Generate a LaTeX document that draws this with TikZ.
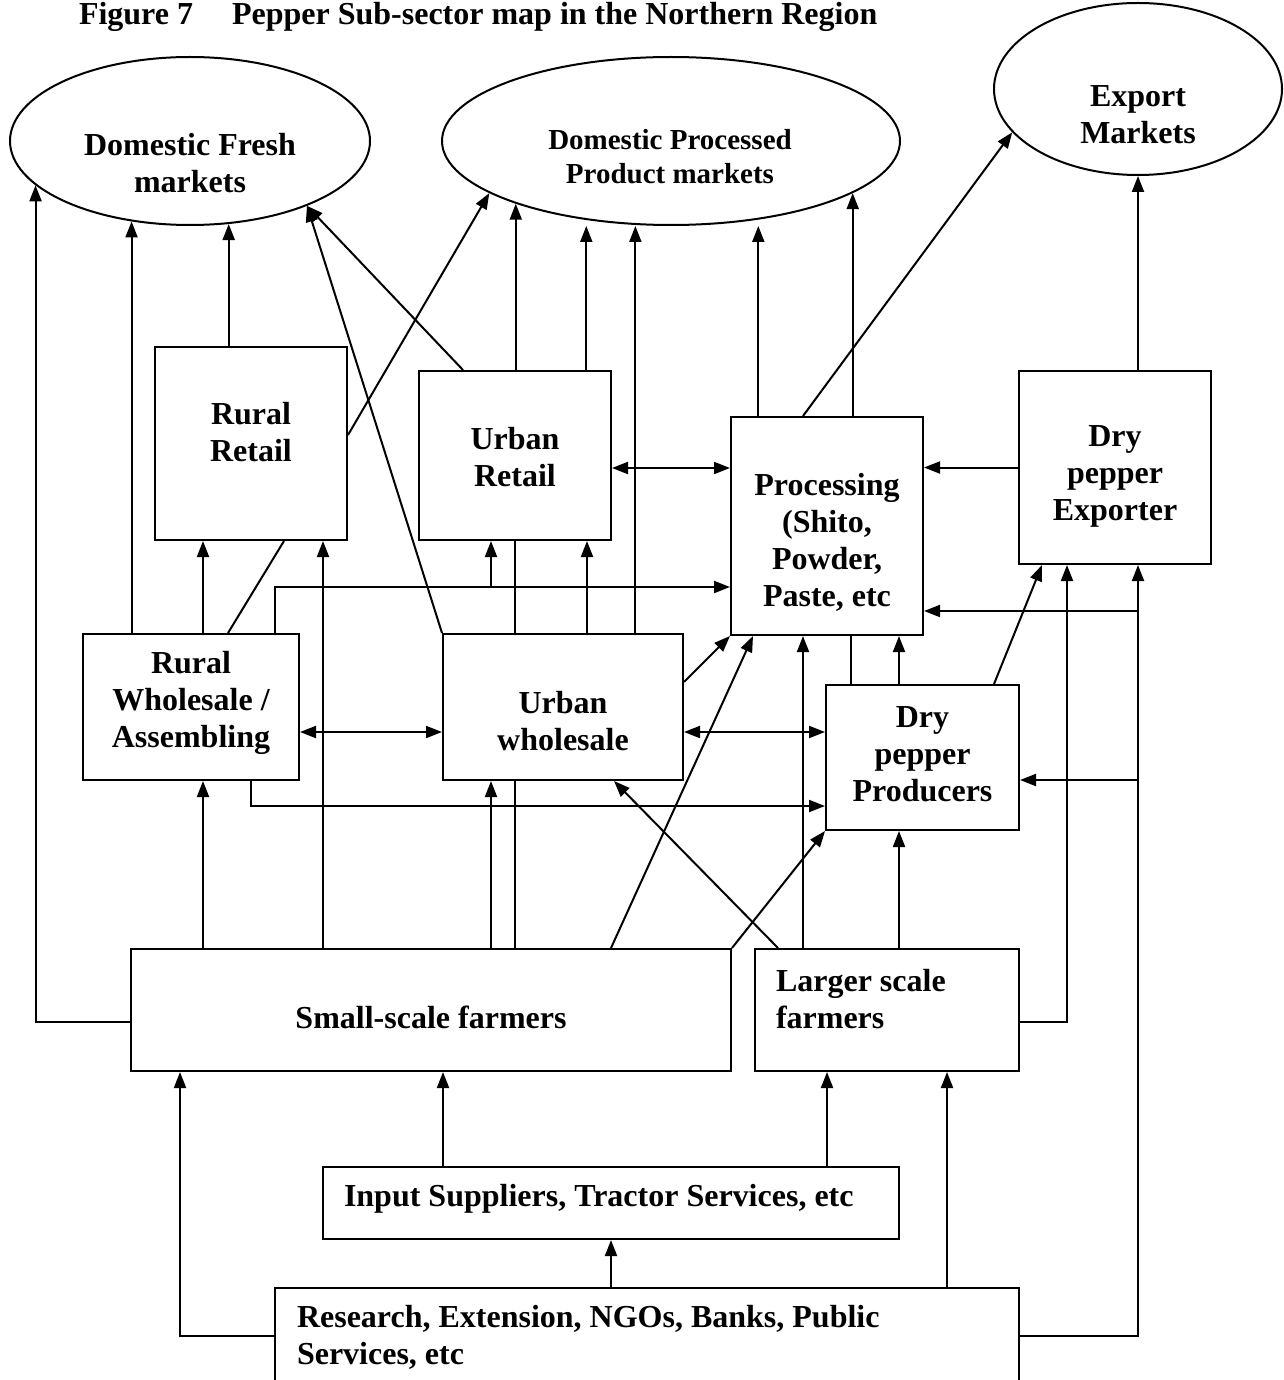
\documentclass[tikz,border=0pt]{standalone}
\usepackage{fontspec}
\setmainfont{Liberation Serif}
\usetikzlibrary{arrows.meta, shapes.geometric}

\begin{document}
\begin{tikzpicture}[x=1pt, y=-1pt, line width=2pt, >={Triangle[length=16pt, width=12pt]},
	box/.style={shape=rectangle, draw, line width=2pt},
	mkt/.style={shape=ellipse, draw, line width=2pt, inner sep=0pt},
	txt/.style={anchor=center, align=center, inner sep=0pt, font=\fontsize{32}{37}\selectfont\bfseries}]
	\useasboundingbox (0,0) rectangle (1283,1380);
	% Title:
	\node[anchor=base west, inner sep=0pt, font=\fontsize{32}{37}\selectfont\bfseries] (title) at (78,25) {Figure 7\hspace{39pt}Pepper Sub-sector map in the Northern Region};
	% Markets:
	\node[mkt, minimum width=360pt, minimum height=168pt] (df) at (190,141) {};
	\node[txt] (df-t) at (190,163) {Domestic Fresh\\markets};
	\node[mkt, minimum width=458pt, minimum height=168pt] (pp) at (671,141) {};
	\node[txt, font=\fontsize{29}{34}\selectfont\bfseries] (pp-t) at (670,157) {Domestic Processed\\Product markets};
	\node[mkt, minimum width=288pt, minimum height=172pt] (em) at (1138,89) {};
	\node[txt] (em-t) at (1138,115) {Export\\Markets};
	% Boxes:
	\node[box, minimum width=192pt, minimum height=193pt] (rr) at (251,443.5) {};
	\node[txt] (rr-t) at (251,432) {Rural\\Retail};
	\node[box, minimum width=192pt, minimum height=169pt] (ur) at (515,455.5) {};
	\node[txt] (ur-t) at (515,457) {Urban\\Retail};
	\node[box, minimum width=192pt, minimum height=218pt] (proc) at (827,526) {};
	\node[txt] (proc-t) at (827,542) {Processing\\(Shito,\\Powder,\\Paste, etc};
	\node[box, minimum width=192pt, minimum height=193pt] (exp) at (1115,467.5) {};
	\node[txt] (exp-t) at (1115,476) {Dry\\pepper\\Exporter};
	\node[box, minimum width=216pt, minimum height=146pt] (rw) at (191,707) {};
	\node[txt] (rw-t) at (191,703) {Rural\\Wholesale /\\Assembling};
	\node[box, minimum width=240pt, minimum height=146pt] (uw) at (563,707) {};
	\node[txt] (uw-t) at (563,721) {Urban\\wholesale};
	\node[box, minimum width=193pt, minimum height=145pt] (dpp) at (922.5,757.5) {};
	\node[txt] (dpp-t) at (922.5,754) {Dry\\pepper\\Producers};
	\node[box, minimum width=600pt, minimum height=122pt] (ssf) at (431,1010) {};
	\node[txt] (ssf-t) at (431,1017) {Small-scale farmers};
	\node[box, minimum width=264pt, minimum height=122pt] (lsf) at (887,1010) {};
	\node[txt, anchor=west, align=left] (lsf-t) at (775,999) {Larger scale\\farmers};
	\node[box, minimum width=576pt, minimum height=72pt] (inp) at (611,1203) {};
	\node[txt, anchor=west, align=left] (inp-t) at (343,1199) {Input Suppliers, Tractor Services, etc};
	\node[box, minimum width=744pt, minimum height=96pt] (res) at (647,1336) {};
	\node[txt, anchor=west, align=left] (res-t) at (296,1337) {Research, Extension, NGOs, Banks, Public\\Services, etc};
	% Into the markets:
	\draw[->] ([yshift=-12pt]ssf.west) -| (df.-164.6);
	\draw[->] (df.-126.6 |- rw.north) -- (df.-126.6);
	\draw[->] (df.-65.8 |- rr.north) -- (df.-65.8);
	\draw[->] ([xshift=-52pt]ur.north) -- (df.-29);
	\draw[->] (uw.north west) -- (df.-29);
	\draw[->] ([yshift=8.5pt]rr.east) -- (pp.-164);
	\draw[->] (pp.-158.5 |- ur.north) -- (pp.-158.5);
	\draw[->] (pp.-137 |- ur.north) -- (pp.-137 |- pp.south);
	\draw[->] (pp.-113.5 |- uw.north) -- (pp.-113.5 |- pp.south);
	\draw[->] (pp.-42.9 |- proc.north) -- (pp.-42.9 |- pp.south);
	\draw[->] (pp.-16.1 |- proc.north) -- (pp.-16.1);
	\draw[->] ([xshift=-24pt]proc.north) -- (em.-161);
	\draw[->] (em.south |- exp.north) -- (em.south);
	% Between the traders:
	\draw[->] ([xshift=12pt]rw.north) -- ([xshift=12pt]rw.north |- rr.south);
	\draw ([xshift=37pt]rw.north) -- ([xshift=33pt]rr.south);
	\draw[->] ([xshift=72pt]rr.south |- ssf.north) -- ([xshift=72pt]rr.south);
	\coordinate (rwj) at ([yshift=-61pt]proc.west);
	\draw[->] ([xshift=84pt]rw.north) |- (rwj);
	\draw[->] ([xshift=-24pt]ur.south |- rwj) -- ([xshift=-24pt]ur.south);
	\draw[<->] ([yshift=-12.5pt]ur.east) -- ([yshift=-12.5pt]ur.east -| proc.west);
	\draw[->] (exp.west) -- (exp.west -| proc.east);
	\draw (ur.south) -- (ur.south |- uw.north);
	\draw[->] ([xshift=72pt]ur.south |- uw.north) -- ([xshift=72pt]ur.south);
	\draw[->] ([yshift=25pt]uw.east) -- (proc.south west);
	\draw[->] ([xshift=180pt]ssf.north) -- ([xshift=-74pt]proc.south);
	\draw[->] ([xshift=-24pt]proc.south |- lsf.north) -- ([xshift=-24pt]proc.south);
	\draw ([xshift=24pt]proc.south |- dpp.north) -- ([xshift=24pt]proc.south);
	\draw[->] ([xshift=72pt]proc.south |- dpp.north) -- ([xshift=72pt]proc.south);
	\draw[->] ([xshift=71.5pt]dpp.north) -- ([xshift=-73pt]exp.south);
	\draw[->] ([yshift=-12pt]lsf.east) -| ([xshift=-48pt]exp.south);
	\draw[->] (res.east) -| (em.south |- exp.south);
	\draw[->] ([yshift=-85pt]proc.east -| em.south) -- ([yshift=-85pt]proc.east);
	\draw[->] ([yshift=-22.5pt]dpp.east -| em.south) -- ([yshift=-22.5pt]dpp.east);
	\draw[<->] ([yshift=-25pt]rw.east) -- ([yshift=-25pt]rw.east -| uw.west);
	\draw[<->] ([yshift=-25pt]uw.east) -- ([yshift=-25pt]uw.east -| dpp.west);
	\draw[->] ([xshift=60pt]rw.south) |- ([yshift=-48.5pt]dpp.west);
	% From the farmers and the services:
	\draw[->] ([xshift=12pt]rw.south |- ssf.north) -- ([xshift=12pt]rw.south);
	\draw[->] ([xshift=-72pt]uw.south |- ssf.north) -- ([xshift=-72pt]uw.south);
	\draw ([xshift=-48pt]uw.south |- ssf.north) -- ([xshift=-48pt]uw.south);
	\draw[->] ([xshift=-109pt]lsf.north) -- ([xshift=51pt]uw.south);
	\draw[->] (ssf.north east) -- (dpp.south west);
	\draw[->] ([xshift=-23.5pt]dpp.south |- lsf.north) -- ([xshift=-23.5pt]dpp.south);
	\draw[->] (res.west) -| ([xshift=-251pt]ssf.south);
	\draw[->] ([xshift=12pt]ssf.south |- inp.north) -- ([xshift=12pt]ssf.south);
	\draw[->] ([xshift=-60pt]lsf.south |- inp.north) -- ([xshift=-60pt]lsf.south);
	\draw[->] (inp.south |- res.north) -- (inp.south);
	\draw[->] ([xshift=60pt]lsf.south |- res.north) -- ([xshift=60pt]lsf.south);
\end{tikzpicture}
\end{document}
